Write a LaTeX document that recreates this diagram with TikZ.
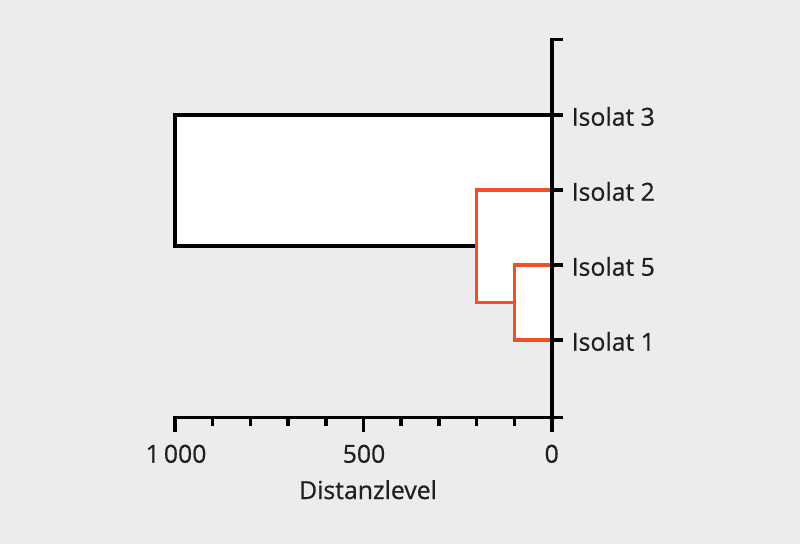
\documentclass[tikz,border=0pt]{standalone}
\usepackage{fontspec}
\setmainfont[FakeBold=0.6]{Open Sans}
\definecolor{bgc}{RGB}{236,236,236}
\definecolor{clred}{RGB}{242,80,36}
\tikzset{
  axisline/.style={line width=3.5pt, black, line cap=butt},
  blackbr/.style={line width=3.3pt, black, line join=miter},
  redbr/.style={line width=3.3pt, clred, line join=miter},
  lab/.style={inner sep=0pt, font=\fontsize{24.8}{29}\selectfont, text=black!88},
}
\begin{document}
\begin{tikzpicture}[x=1pt,y=-1pt]
\useasboundingbox (0,0) rectangle (800,544);
\fill[bgc] (0,0) rectangle (800,544);
% leaves on axis
\coordinate (L3) at (552,115);
\coordinate (L2) at (552,190);
\coordinate (L5) at (552,265);
\coordinate (L1) at (552,340);
% cluster nodes
\coordinate (C51) at (514.3,302.5);
\coordinate (C251) at (476.6,246);
\coordinate (R) at (175,180.5);
% fills
\fill[white] (L3) -| (R) |- (C251) |- (L2) -- cycle;
\fill[white] (L2) -| (C251) |- (C51) |- (L5) -- cycle;
\fill[white] (L5) -| (C51) |- (L1) -- cycle;
% brackets
\draw[blackbr] (L3) -| (R) |- (C251);
\draw[redbr] (L2) -| (C251) |- (C51);
\draw[redbr] (L5) -| (C51) |- (L1);
% axes
\coordinate (Atop) at (552,39.3);
\coordinate (Aorg) at (552,417.3);
\draw[axisline, line join=miter] (563,39.3) -- (Atop) -- (552,432);
\draw[axisline, line join=miter] (175,432) -- (175,417.3) -- (563,417.3);
\foreach \y in {115,190,265,340} \draw[axisline] (552,\y) -- (563,\y);
\foreach \i in {1,...,9} \draw[axisline] (175+\i*37.7,417.3) -- (175+\i*37.7,425.5);
\draw[axisline] (363.5,417.3) -- (363.5,432);
% leaf labels
\node[lab, anchor=base west] (t3) at (571.5,125.7) {Isolat 3};
\node[lab, anchor=base west] (t2) at (571.5,200.7) {Isolat 2};
\node[lab, anchor=base west] (t5) at (571.5,275.7) {Isolat 5};
\node[lab, anchor=base west] (t1) at (571.5,350.7) {Isolat 1};
% tick labels
\node[lab, anchor=base] (x1000) at (176,462.7) {1\,000};
\node[lab, anchor=base] (x500) at (364,462.7) {500};
\node[lab, anchor=base] (x0) at (551.7,462.7) {0};
\node[lab, anchor=base] (xt) at (368,499) {Distanzlevel};
\end{tikzpicture}
\end{document}
